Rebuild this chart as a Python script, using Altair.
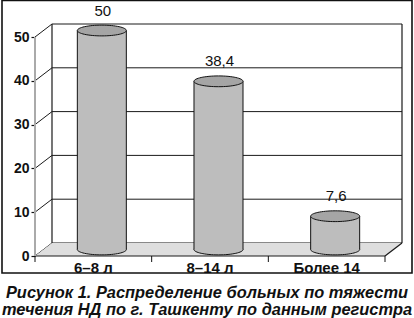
import altair as alt
import pandas as pd

# ---- data ----
categories = ["6–8 л", "8–14 л", "Более 14"]
values = [50, 38.4, 7.6]
value_labels = ["50", "38,4", "7,6"]
y_ticks = [0, 10, 20, 30, 40, 50]
caption = ["Рисунок 1. Распределение больных по тяжести",
           "течения НД по г. Ташкенту по данным регистра"]

# ---- layout constants (pseudo-3D geometry) ----
W, H = 367, 232
DX = 0.1457          # depth offset in category units
DY = 2.97            # depth offset in value units
XMAX = 3 + DX
YMAX = 50 + DY
HALF = 0.21          # cylinder half width (category units)
FONT = "Liberation Sans"

xs = alt.Scale(domain=[0, XMAX], nice=False, zero=False)
ys = alt.Scale(domain=[0, YMAX], nice=False, zero=False)
YAXIS = alt.Axis(values=y_ticks, title=None, domain=False, grid=False,
                 ticks=True, tickSize=4, tickColor="#111", tickWidth=1.2,
                 labelFont=FONT, labelFontWeight="bold", labelFontSize=14,
                 labelColor="#111", labelPadding=2)

ELLIPSE = ("M -1 0 C -1 -0.1215 -0.5523 -0.22 0 -0.22 "
           "C 0.5523 -0.22 1 -0.1215 1 0 "
           "C 1 0.1215 0.5523 0.22 0 0.22 "
           "C -0.5523 0.22 -1 0.1215 -1 0 Z")

def X(f):
    return alt.X(f, type="quantitative", scale=xs, axis=None)

def Y(f):
    return alt.Y(f, type="quantitative", scale=ys, axis=YAXIS)

# back-wall gridlines
grid_df = pd.DataFrame({"v": y_ticks})
grid_df["x"] = DX
grid_df["x2"] = XMAX
grid_df["y"] = grid_df["v"] + DY
grid = alt.Chart(grid_df).mark_rule(color="#1a1a1a", strokeWidth=1).encode(
    x=X("x"), x2="x2", y=Y("y"))

# left-wall connectors
conn_df = pd.DataFrame({"v": y_ticks})
conn_df["x"] = 0.0
conn_df["x2"] = DX
conn_df["y2"] = conn_df["v"] + DY
conn = alt.Chart(conn_df).mark_rule(color="#1a1a1a", strokeWidth=1).encode(
    x=X("x"), x2="x2", y=Y("v"), y2="y2")

# back-wall vertical edges
edge_df = pd.DataFrame({"x": [DX, XMAX], "y": [DY, DY], "y2": [YMAX, YMAX]})
edges = alt.Chart(edge_df).mark_rule(color="#1a1a1a", strokeWidth=1.2).encode(
    x=X("x"), y=Y("y"), y2="y2")

# floor
floor_df = pd.DataFrame({"x": [0, DX, 3, XMAX], "lo": [0, 0, 0, DY], "hi": [0, DY, DY, DY]})
floor = alt.Chart(floor_df).mark_area(color="#dedede", opacity=1).encode(
    x=X("x"), y=Y("lo"), y2="hi")

fedge_df = pd.DataFrame({"x": [0, 3], "x2": [3, XMAX], "y": [0, 0], "y2": [0, DY]})
fedges = alt.Chart(fedge_df).mark_rule(color="#1a1a1a", strokeWidth=1.2).encode(
    x=X("x"), x2="x2", y=Y("y"), y2="y2")

# front axis line (gray)
ax_df = pd.DataFrame({"x": [0], "y": [0], "y2": [50]})
axline = alt.Chart(ax_df).mark_rule(color="#aaaaaa", strokeWidth=2).encode(
    x=X("x"), y=Y("y"), y2="y2")

# cylinders
cyl = pd.DataFrame({"cat": categories, "v": values, "lab": value_labels})
cyl["cx"] = [i + 0.5 + DX / 2 for i in range(len(categories))]
cyl["left"] = cyl["cx"] - HALF
cyl["right"] = cyl["cx"] + HALF
cyl["base"] = DY / 2
cyl["top"] = cyl["v"] + DY / 2

bottom_ell = alt.Chart(cyl).mark_point(
    shape=ELLIPSE, size=49 ** 2, filled=True, fill="#bdbdbd", stroke="#111",
    strokeWidth=1, opacity=1).encode(x=X("cx"), y=Y("base"))
body = alt.Chart(cyl).mark_rect(color="#bdbdbd", opacity=1).encode(
    x=X("left"), x2="right", y=Y("base"), y2="top")
side_l = alt.Chart(cyl).mark_rule(color="#111", strokeWidth=1).encode(
    x=X("left"), y=Y("base"), y2="top")
side_r = alt.Chart(cyl).mark_rule(color="#111", strokeWidth=1).encode(
    x=X("right"), y=Y("base"), y2="top")
top_ell = alt.Chart(cyl).mark_point(
    shape=ELLIPSE, size=49 ** 2, filled=True, fill="#a5a5a5", stroke="#111",
    strokeWidth=1, opacity=1).encode(x=X("cx"), y=Y("top"))
vlabels = alt.Chart(cyl).mark_text(
    font=FONT, fontSize=15, color="#111", dy=-20, dx=1, baseline="middle").encode(
    x=X("cx"), y=Y("top"), text="lab:N")

# category labels and ticks
cat_df = pd.DataFrame({"cat": categories, "x": [i + 0.5 for i in range(len(categories))]})
clabels = alt.Chart(cat_df).mark_text(
    font=FONT, fontSize=15, fontWeight="bold", color="#111", baseline="middle").encode(
    x=X("x"), y=alt.value(H + 12), text="cat:N")
tick_df = pd.DataFrame({"x": list(range(len(categories) + 1))})
cticks = alt.Chart(tick_df).mark_rule(color="#111", strokeWidth=1).encode(
    x=X("x"), y=alt.value(H), y2=alt.value(H + 6))

# outer frame
one = pd.DataFrame({"a": [0]})
frame = alt.Chart(one).mark_rect(fillOpacity=0, stroke="#111", strokeWidth=1.6).encode(
    x=alt.value(-33), x2=alt.value(377), y=alt.value(-23.5), y2=alt.value(249))

# caption
cap1 = alt.Chart(pd.DataFrame({"t": [caption[0]]})).mark_text(
    font=FONT, fontSize=16.4, fontWeight="bold", fontStyle="italic", color="#111",
    baseline="alphabetic", align="center").encode(
    x=alt.value(172), y=alt.value(274), text="t:N")
cap2 = alt.Chart(pd.DataFrame({"t": [caption[1]]})).mark_text(
    font=FONT, fontSize=16.4, fontWeight="bold", fontStyle="italic", color="#111",
    baseline="alphabetic", align="center").encode(
    x=alt.value(172), y=alt.value(291), text="t:N")

chart = alt.layer(
    frame, grid, edges, conn, floor, fedges, axline,
    bottom_ell, body, side_l, side_r, top_ell, vlabels,
    clabels, cticks, cap1, cap2
).properties(
    width=W, height=H,
    autosize=alt.AutoSizeParams(type="none"),
    padding={"left": 35, "top": 24, "right": 12, "bottom": 62},
    background="white"
).configure_view(stroke=None)

chart.save("out.html", embed_options={"renderer": "svg", "actions": False})
